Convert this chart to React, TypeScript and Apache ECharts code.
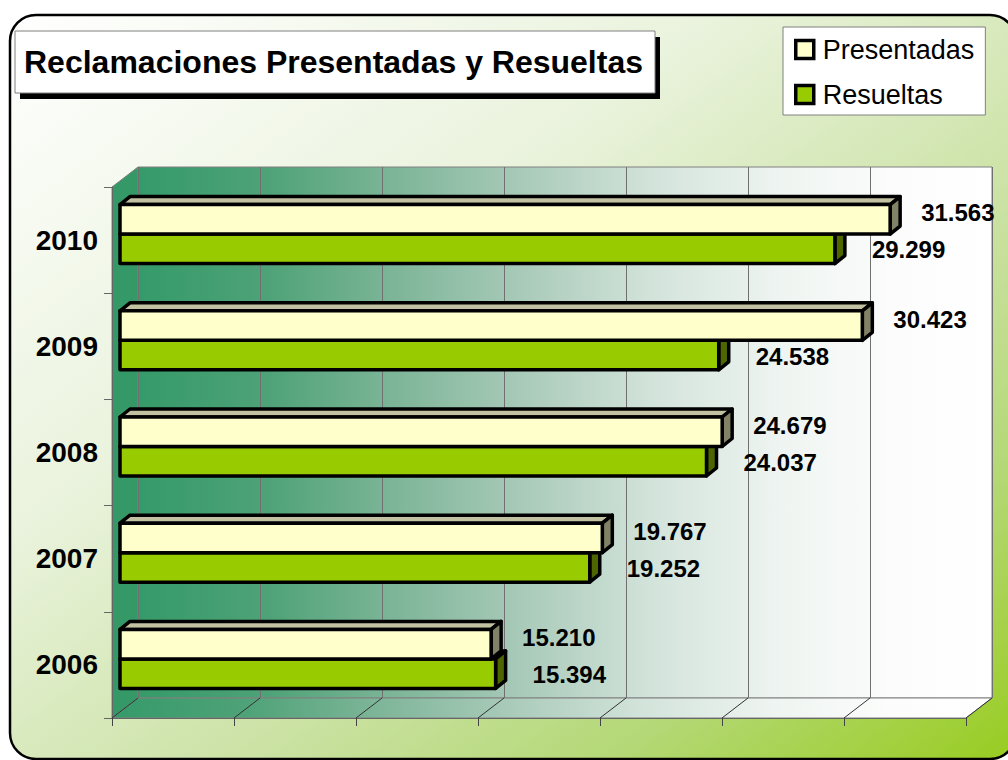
import React, { useEffect, useRef } from 'react';
import * as echarts from 'echarts';

// ---------- data ----------
const years = ['2006', '2007', '2008', '2009', '2010'];
const presentadas = [15210, 19767, 24679, 30423, 31563];
const resueltas = [15394, 19252, 24037, 24538, 29299];
const xTicks = [0, 5000, 10000, 15000, 20000, 25000, 30000, 35000];
const seriesNames = ['Presentadas', 'Resueltas'];
const titleText = 'Reclamaciones Presentadas y Resueltas';

const FONT = "'Liberation Sans', Arial, Helvetica, sans-serif";
const fmt = (v: number) => String(v).replace(/\B(?=(\d{3})+(?!\d))/g, '.');

const COLORS = {
  pres: { front: '#FFFFCC', top: '#C2C2A2', side: '#828266' },
  res: { front: '#99CC00', top: '#7A9E00', side: '#4D6600' },
};

const wallGradient = () =>
  new echarts.graphic.LinearGradient(0, 0, 1, 0, [
    { offset: 0, color: '#359a69' },
    { offset: 0.15, color: '#4ea277' },
    { offset: 0.3, color: '#7db598' },
    { offset: 0.45, color: '#a9cab9' },
    { offset: 0.6, color: '#d2e3da' },
    { offset: 0.75, color: '#eef4f1' },
    { offset: 0.88, color: '#fbfcfb' },
    { offset: 1, color: '#ffffff' },
  ]);

function makeBarRenderer(which: 0 | 1) {
  const c = which === 0 ? COLORS.pres : COLORS.res;
  return (params: any, api: any) => {
    const val = api.value(0);
    const cat = api.value(1);
    const p0 = api.coord([0, cat]);
    const p1 = api.coord([val, cat]);
    const h = 29.5;
    const dx = 10;
    const dy = 8;
    const yc = p0[1];
    const yt = which === 0 ? yc - h : yc;
    const yb = yt + h;
    const x0 = p0[0];
    const x1 = p1[0];
    const stroke = { stroke: '#000', lineWidth: 3.5, lineJoin: 'round' };
    const labelX = x1 + (which === 0 ? 31 : 37);
    const labelY = which === 0 ? yt + h / 2 - 6.5 : yt + h / 2 + 1;
    return {
      type: 'group',
      children: [
        {
          type: 'polygon',
          shape: { points: [[x0, yt], [x0 + dx, yt - dy], [x1 + dx, yt - dy], [x1, yt]] },
          style: { fill: c.top, ...stroke },
        },
        {
          type: 'polygon',
          shape: { points: [[x1, yt], [x1 + dx, yt - dy], [x1 + dx, yb - dy], [x1, yb]] },
          style: { fill: c.side, ...stroke },
        },
        {
          type: 'rect',
          shape: { x: x0, y: yt, width: x1 - x0, height: h },
          style: { fill: c.front, ...stroke },
        },
        {
          type: 'text',
          x: labelX,
          y: labelY,
          style: {
            text: fmt(val),
            font: `bold 24px ${FONT}`,
            fill: '#000',
            align: 'left',
            verticalAlign: 'middle',
          },
        },
      ],
    };
  };
}

function floorRenderer(params: any, api: any) {
  const v = api.value(0);
  const p = api.coord([v, 0]);
  const cs = params.coordSys;
  const bottom = cs.y + cs.height;
  return {
    type: 'line',
    shape: { x1: p[0], y1: bottom, x2: p[0] + 26, y2: bottom - 20 },
    style: { stroke: '#333', lineWidth: 1 },
  };
}

export default function App() {
  const ref = useRef<HTMLDivElement>(null);

  useEffect(() => {
    if (!ref.current) return;
    const chart = echarts.init(ref.current, undefined, { renderer: 'svg' });

    const option: any = {
      animation: false,
      backgroundColor: '#ffffff',
      title: {
        text: titleText,
        left: 24,
        top: 46,
        padding: 0,
        z: 12,
        textStyle: { fontSize: 32, fontWeight: 'bold', color: '#000', fontFamily: FONT },
      },
      legend: {
        orient: 'vertical',
        left: 783,
        top: 27,
        padding: [9, 11, 7, 11],
        itemGap: 18,
        itemWidth: 18,
        itemHeight: 18,
        icon: 'rect',
        backgroundColor: '#ffffff',
        borderColor: '#808080',
        borderWidth: 1,
        textStyle: { fontSize: 27, color: '#000', fontFamily: FONT, padding: [0, 0, 0, 4] },
        data: [
          { name: seriesNames[0], itemStyle: { color: COLORS.pres.front, borderColor: '#000', borderWidth: 3.5 } },
          { name: seriesNames[1], itemStyle: { color: COLORS.res.front, borderColor: '#000', borderWidth: 3.5 } },
        ],
      },
      graphic: [
        {
          type: 'rect',
          z: -20,
          shape: { x: 10, y: 15, width: 1006, height: 744, r: 26 },
          style: {
            fill: new echarts.graphic.LinearGradient(0, 0, 1, 1, [
              { offset: 0, color: '#ffffff' },
              { offset: 0.35, color: '#eaf3dd' },
              { offset: 0.6, color: '#cde3a8' },
              { offset: 0.8, color: '#b4d876' },
              { offset: 1, color: '#98cc20' },
            ]),
            stroke: '#000',
            lineWidth: 2.5,
          },
        },
        {
          type: 'rect',
          z: -10,
          shape: { x: 138, y: 167, width: 854, height: 531 },
          style: { fill: wallGradient(), stroke: '#808080', lineWidth: 1 },
        },
        {
          type: 'polygon',
          z: -10,
          shape: { points: [[112, 187], [138, 167], [138, 698], [112, 718]] },
          style: { fill: '#349967', stroke: '#808080', lineWidth: 1 },
        },
        {
          type: 'polygon',
          z: -10,
          shape: { points: [[112, 718], [138, 698], [992, 698], [966, 718]] },
          style: { fill: wallGradient(), stroke: '#808080', lineWidth: 1 },
        },
        {
          type: 'rect',
          z: 10,
          shape: { x: 20, y: 37, width: 640, height: 62 },
          style: { fill: '#000' },
        },
        {
          type: 'rect',
          z: 11,
          shape: { x: 15, y: 31, width: 640, height: 62 },
          style: { fill: '#ffffff', stroke: '#808080', lineWidth: 1 },
        },
      ],
      grid: [
        { left: 138, top: 167, width: 854, height: 531, show: false },
        { left: 120, top: 181, width: 854, height: 531, show: false },
        { left: 112, top: 187, width: 854, height: 531, show: false },
      ],
      xAxis: [
        {
          gridIndex: 0, type: 'value', min: 0, max: 35000, interval: 5000,
          axisLine: { show: false }, axisTick: { show: false }, axisLabel: { show: false },
          splitLine: { show: true, lineStyle: { color: '#707070', width: 1 } },
        },
        { gridIndex: 1, type: 'value', min: 0, max: 35000, interval: 5000, show: false },
        {
          gridIndex: 2, type: 'value', min: 0, max: 35000, interval: 5000,
          axisLine: { show: true, lineStyle: { color: '#666', width: 1 } },
          axisTick: { show: true, length: 8, lineStyle: { color: '#444' } },
          axisLabel: { show: false },
          splitLine: { show: false },
        },
      ],
      yAxis: [
        { gridIndex: 0, type: 'category', data: years, show: false },
        { gridIndex: 1, type: 'category', data: years, show: false },
        {
          gridIndex: 2, type: 'category', data: years,
          axisLine: { show: true, lineStyle: { color: '#666', width: 1 } },
          axisTick: { show: true, length: 8, lineStyle: { color: '#666' } },
          axisLabel: { fontSize: 28, fontWeight: 'bold', color: '#000', margin: 14, fontFamily: FONT },
          splitLine: { show: false },
        },
      ],
      series: [
        {
          type: 'custom',
          name: 'floor',
          xAxisIndex: 2,
          yAxisIndex: 2,
          silent: true,
          z: 1,
          data: xTicks.map((v) => [v, 0]),
          renderItem: floorRenderer,
        },
        {
          type: 'custom',
          name: seriesNames[1],
          xAxisIndex: 1,
          yAxisIndex: 1,
          z: 3,
          itemStyle: { color: COLORS.res.front },
          data: resueltas.map((v, i) => [v, i]),
          renderItem: makeBarRenderer(1),
        },
        {
          type: 'custom',
          name: seriesNames[0],
          xAxisIndex: 1,
          yAxisIndex: 1,
          z: 4,
          itemStyle: { color: COLORS.pres.front },
          data: presentadas.map((v, i) => [v, i]),
          renderItem: makeBarRenderer(0),
        },
      ],
    };

    chart.setOption(option);
    return () => chart.dispose();
  }, []);

  return (
    <div
      ref={ref}
      style={{ position: 'absolute', left: 0, top: 0, width: 1008, height: 760 }}
    />
  );
}
